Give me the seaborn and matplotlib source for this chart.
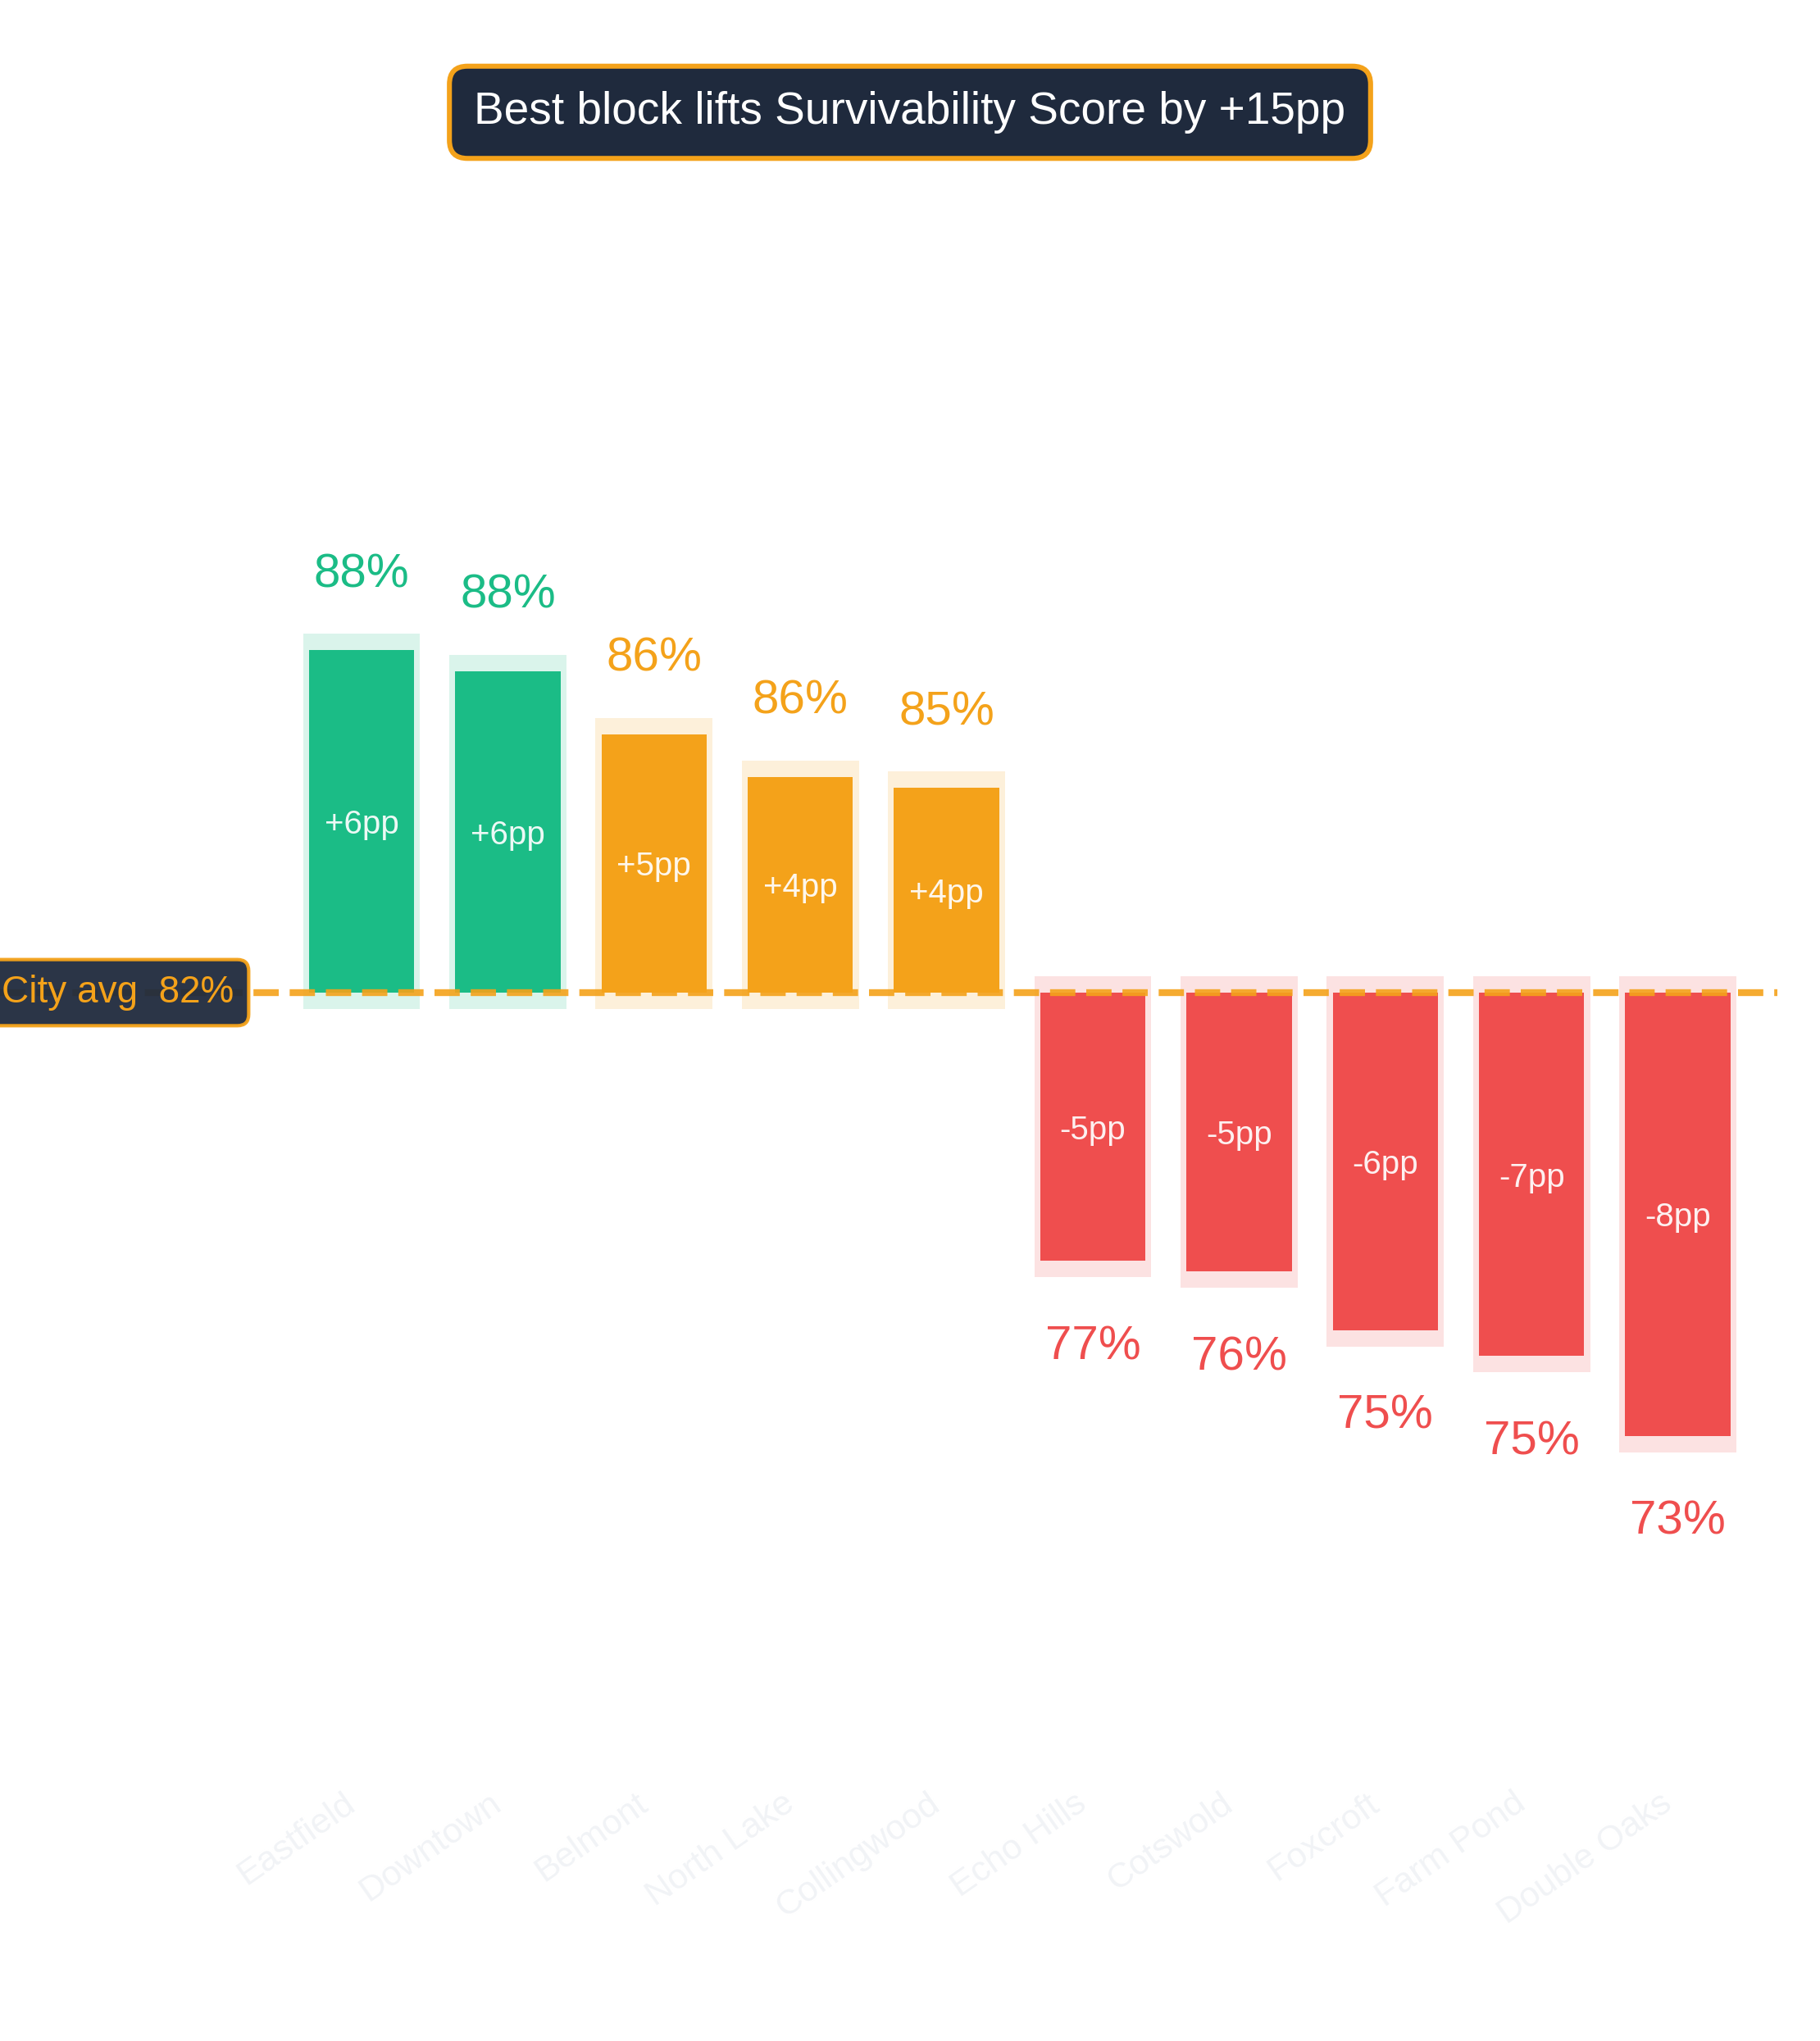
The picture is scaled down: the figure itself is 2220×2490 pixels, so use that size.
import numpy as np
import pandas as pd
import matplotlib
matplotlib.use("Agg")
import matplotlib.pyplot as plt
import seaborn as sns

# ---- data ----
neighborhoods = ["Eastfield", "Downtown", "Belmont", "North Lake", "Collingwood",
                 "Echo Hills", "Cotswold", "Foxcroft", "Farm Pond", "Double Oaks"]
scores = [87.95, 87.56, 86.39, 85.60, 85.40, 76.63, 76.43, 75.34, 74.86, 73.38]
city_avg = 81.6
metric_name = "Survivability Score"

# ---- style ----
sns.set_style("white")
plt.rcParams["font.family"] = ["Liberation Sans", "DejaVu Sans"]

GREEN = "#1BBC86"
ORANGE = "#F4A21A"
RED = "#EF4E4E"
NAVY = "#1F2A3D"

deltas = [s - city_avg for s in scores]
colors = [GREEN if d >= 5 else (ORANGE if d > 0 else RED) for d in deltas]
df = pd.DataFrame({"name": neighborhoods, "delta": deltas})

W, H = 2220, 2490
fig = plt.figure(figsize=(W / 200, H / 200), dpi=200)
fig.patch.set_facecolor("white")

px_per_unit = 65.8
avg_px = 1211
ax_top_px, ax_bot_px = 300, 2165
ax = fig.add_axes([0, 1 - ax_bot_px / H, 2168 / W, (ax_bot_px - ax_top_px) / H])

# background halo bars
pad = 20 / px_per_unit
x = np.arange(len(neighborhoods))
sign = np.sign(deltas)
ax.bar(x, np.array(deltas) + 2 * pad * sign, bottom=-pad * sign, width=0.80,
       color=colors, alpha=0.16, linewidth=0, zorder=0.5)

# main bars
sns.barplot(data=df, x="name", y="delta", hue="name", palette=colors,
            width=0.72, saturation=1, legend=False, errorbar=None,
            linewidth=0, zorder=2, ax=ax)

# average line
ax.axhline(0, color=ORANGE, lw=3, ls="--", alpha=0.9, zorder=3)

ax.set_xlim(-441 / 178.4, (2168 - 441) / 178.4)
ax.set_ylim(-(ax_bot_px - avg_px) / px_per_unit, (avg_px - ax_top_px) / px_per_unit)

for i, (s, d, c) in enumerate(zip(scores, deltas, colors)):
    if d > 0:
        ax.annotate(f"{s:.0f}%", (i, d), xytext=(0, 27.7), textcoords="offset points",
                    ha="center", va="baseline", fontsize=21, color=c, zorder=5)
    else:
        ax.annotate(f"{s:.0f}%", (i, d), xytext=(0, -43.2), textcoords="offset points",
                    ha="center", va="baseline", fontsize=21, color=c, zorder=5)
    ax.text(i, d / 2, f"{d:+.0f}pp", ha="center", va="center_baseline",
            fontsize=14.5, color="white", alpha=0.92, zorder=5)

# axes cosmetics
sns.despine(ax=ax, left=True, bottom=True)
ax.set_yticks([])
ax.set_xlabel("")
ax.set_ylabel("")
ax.tick_params(axis="x", length=0, pad=5.4)
ax.set_xticks(x)
ax.set_xticklabels(neighborhoods, rotation=35, ha="right", fontsize=15.5, color="#F1F3F6")
ax.set_facecolor("white")

# city average label
ax.annotate(f"City avg  {city_avg:.0f}%", xy=(285 / W, 0), xycoords=("figure fraction", "data"),
            ha="right", va="center", fontsize=16.5, color=ORANGE, zorder=6,
            bbox=dict(boxstyle="round,pad=0.4,rounding_size=0.3", fc=NAVY, ec=ORANGE, lw=1.5, alpha=0.95),
            annotation_clip=False)

# title badge
spread = max(scores) - min(scores)
fig.text(0.5, 1 - 137 / H, f"Best block lifts {metric_name} by +{spread:.0f}pp",
         ha="center", va="center", fontsize=19.8, color="white",
         bbox=dict(boxstyle="round,pad=0.55,rounding_size=0.4", fc=NAVY, ec=ORANGE, lw=2.2))

fig.savefig("out.png", dpi=200, facecolor="white")
